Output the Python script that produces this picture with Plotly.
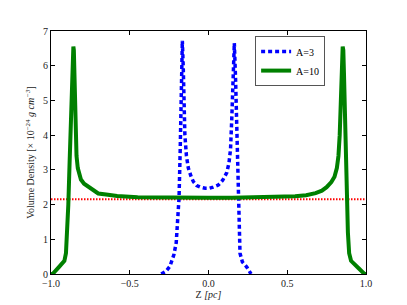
import plotly.graph_objects as go

# A=3 series
z_a3 = [-0.30, -0.27, -0.245, -0.22, -0.205, -0.195, -0.187, -0.18, -0.175, -0.17, -0.166,
        -0.16, -0.15, -0.14, -0.128, -0.11, -0.096, -0.075, -0.05, -0.02, 0.005, 0.03,
        0.062, 0.09, 0.116, 0.13, 0.14, 0.148, 0.155, 0.164, 0.172, 0.179, 0.185, 0.19,
        0.196, 0.20, 0.215, 0.243, 0.27]
rho_a3 = [0.0, 0.08, 0.22, 0.55, 0.9, 1.5, 2.2, 3.5, 4.6, 5.8, 6.72,
          5.9, 4.0, 3.4, 3.05, 2.8, 2.66, 2.55, 2.5, 2.47, 2.47, 2.5,
          2.56, 2.7, 2.92, 3.2, 3.6, 4.5, 5.6, 6.65, 5.6, 4.4, 3.2, 2.15,
          1.2, 0.6, 0.35, 0.2, 0.0]

# A=10 series
z_a10 = [-1.0, -0.99, -0.95, -0.915, -0.905, -0.898, -0.89, -0.882, -0.875, -0.868, -0.862,
         -0.858, -0.855, -0.852, -0.848, -0.843, -0.838, -0.83, -0.82, -0.81, -0.79, -0.76,
         -0.73, -0.70, -0.65, -0.58, -0.45, -0.3, -0.15, 0.0, 0.15, 0.3, 0.45, 0.55, 0.62,
         0.68, 0.72, 0.75, 0.78, 0.80, 0.815, 0.825, 0.833, 0.84, 0.846, 0.852, 0.856, 0.86,
         0.866, 0.872, 0.878, 0.885, 0.893, 0.905, 0.95, 0.99, 1.0]
rho_a10 = [0.0, 0.0, 0.2, 0.38, 0.6, 1.2, 2.0, 3.2, 4.5, 5.7, 6.4,
           6.55, 6.45, 6.0, 5.0, 4.0, 3.4, 3.05, 2.85, 2.72, 2.6, 2.5,
           2.4, 2.32, 2.29, 2.25, 2.21, 2.2, 2.2, 2.2, 2.2, 2.21, 2.22, 2.24, 2.27,
           2.33, 2.4, 2.5, 2.65, 2.8, 3.05, 3.4, 4.0, 4.8, 5.8, 6.55, 6.45, 5.8,
           4.5, 3.2, 2.0, 1.2, 0.6, 0.38, 0.18, 0.0, 0.0]

# reference level
z_ref = [-1.0, 1.0]
rho_ref = [2.15, 2.15]

font_family = "Liberation Serif, DejaVu Serif, serif"

fig = go.Figure()
fig.add_trace(go.Scatter(x=z_ref, y=rho_ref, mode="lines",
                         line=dict(color="red", width=2, dash="1.5px,1.5px"),
                         showlegend=False))
fig.add_trace(go.Scatter(x=z_a3, y=rho_a3, mode="lines", name="A=3",
                         line=dict(color="blue", width=3.5, dash="4px,3px")))
fig.add_trace(go.Scatter(x=z_a10, y=rho_a10, mode="lines", name="A=10",
                         line=dict(color="green", width=4)))

axis_common = dict(showline=True, linecolor="black", linewidth=1, mirror="ticks",
                   ticks="inside", ticklen=4, tickcolor="black", showgrid=False,
                   zeroline=False, automargin=False,
                   tickfont=dict(family=font_family, size=10, color="#222"))

fig.update_xaxes(range=[-1.0, 1.0], tickvals=[-1.0, -0.5, 0.0, 0.5, 1.0],
                 ticktext=["\u22121.0", "\u22120.5", "0.0", "0.5", "1.0"],
                 title=dict(text="Z <i>[pc]</i>", font=dict(family=font_family, size=10, color="#222"),
                            standoff=2),
                 **axis_common)
fig.update_yaxes(range=[0, 7], tickvals=[0, 1, 2, 3, 4, 5, 6, 7],
                 title=dict(text="Volume Density [\u00d7 10<sup>\u221224</sup> <i>g cm<sup>\u22123</sup></i>]",
                            font=dict(family=font_family, size=10, color="#222"), standoff=6),
                 **axis_common)

# page body adds an 8px margin, so the figure is sized to fill the remaining window
fig.update_layout(
    width=399, height=297,
    margin=dict(l=43, r=41, t=23, b=31),
    plot_bgcolor="white", paper_bgcolor="white",
    legend=dict(x=0.648, y=0.979, xanchor="left", yanchor="top",
                bordercolor="#555", borderwidth=1, bgcolor="white",
                font=dict(family=font_family, size=10, color="black"),
                itemwidth=30, tracegroupgap=0),
)

fig.write_html("out.html")
